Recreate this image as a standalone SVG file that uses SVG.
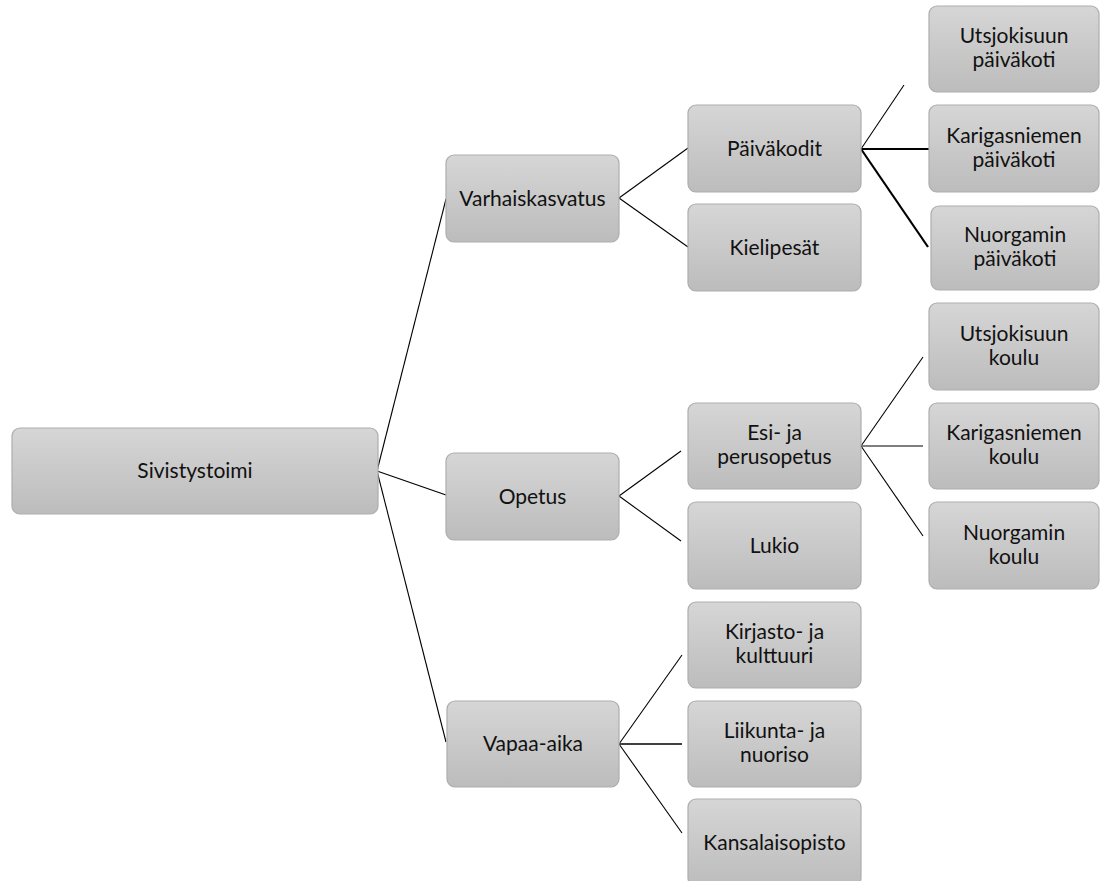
<svg xmlns="http://www.w3.org/2000/svg" width="1100" height="881" viewBox="0 0 1100 881">
<defs>
<linearGradient id="g" x1="0" y1="0" x2="0" y2="1">
<stop offset="0" stop-color="#d6d6d6"/>
<stop offset="1" stop-color="#bcbcbc"/>
</linearGradient>
<style>
.box{fill:url(#g);stroke:#adadad;stroke-width:1.2}
.t{font-family:Lato,"Liberation Sans",sans-serif;font-size:21px;fill:#111;text-anchor:middle}
.c{stroke:#000;stroke-width:1.1;fill:none}
.c2{stroke:#000;stroke-width:2.2;fill:none}
.c3{stroke:#404040;stroke-width:1.8;fill:none}
</style>
</defs>
<rect width="1100" height="881" fill="#fff"/>
<g id="connectors">
<line class="c" x1="377" y1="471" x2="446" y2="199"/>
<line class="c" x1="377" y1="471" x2="446" y2="495"/>
<line class="c" x1="377" y1="471" x2="446" y2="742"/>
<line class="c" x1="619" y1="198" x2="688" y2="148"/>
<line class="c" x1="619" y1="198" x2="688" y2="247"/>
<line class="c" x1="861" y1="149" x2="904" y2="85"/>
<line class="c2" x1="861" y1="149" x2="929" y2="149"/>
<line class="c2" x1="861" y1="149" x2="928" y2="247"/>
<line class="c" x1="619" y1="496" x2="681" y2="451"/>
<line class="c" x1="619" y1="496" x2="681" y2="541"/>
<line class="c" x1="861" y1="446" x2="923" y2="357"/>
<line class="c" x1="861" y1="446" x2="923" y2="446"/>
<line class="c" x1="861" y1="446" x2="923" y2="536"/>
<line class="c" x1="619" y1="744" x2="682" y2="655"/>
<line class="c3" x1="619" y1="744" x2="682" y2="744"/>
<line class="c" x1="619" y1="744" x2="682" y2="833"/>
</g>
<g id="sivistystoimi"><rect class="box" x="12" y="428" width="366" height="86" rx="8"/><text class="t" x="195" y="478">Sivistystoimi</text></g>
<g id="varhaiskasvatus"><rect class="box" x="446" y="155" width="173" height="87" rx="8"/><text class="t" x="532.5" y="205.5">Varhaiskasvatus</text></g>
<g id="opetus"><rect class="box" x="446" y="453" width="173" height="87" rx="8"/><text class="t" x="532.5" y="503.5">Opetus</text></g>
<g id="vapaa-aika"><rect class="box" x="447" y="701" width="172" height="86" rx="8"/><text class="t" x="533" y="751">Vapaa-aika</text></g>
<g id="paivakodit"><rect class="box" x="688" y="105" width="173" height="87" rx="8"/><text class="t" x="774.5" y="155.5">Päiväkodit</text></g>
<g id="kielipesat"><rect class="box" x="688" y="204" width="173" height="87" rx="8"/><text class="t" x="774.5" y="254.5">Kielipesät</text></g>
<g id="esi-ja-perusopetus"><rect class="box" x="688" y="403" width="173" height="86" rx="8"/><text class="t" x="774.5" y="440">Esi- ja</text><text class="t" x="774.5" y="464">perusopetus</text></g>
<g id="lukio"><rect class="box" x="688" y="502" width="173" height="87" rx="8"/><text class="t" x="774.5" y="552.5">Lukio</text></g>
<g id="kirjasto"><rect class="box" x="688" y="602" width="173" height="86" rx="8"/><text class="t" x="774.5" y="639">Kirjasto- ja</text><text class="t" x="774.5" y="663">kulttuuri</text></g>
<g id="liikunta"><rect class="box" x="688" y="701" width="173" height="86" rx="8"/><text class="t" x="774.5" y="738">Liikunta- ja</text><text class="t" x="774.5" y="762">nuoriso</text></g>
<g id="kansalaisopisto"><rect class="box" x="688" y="799" width="173" height="87" rx="8"/><text class="t" x="774.5" y="849.5">Kansalaisopisto</text></g>
<g id="utsjokisuun-paivakoti"><rect class="box" x="929" y="6" width="170" height="86" rx="8"/><text class="t" x="1014" y="43">Utsjokisuun</text><text class="t" x="1014" y="67">päiväkoti</text></g>
<g id="karigasniemen-paivakoti"><rect class="box" x="929" y="105" width="170" height="87" rx="8"/><text class="t" x="1014" y="142.5">Karigasniemen</text><text class="t" x="1014" y="166.5">päiväkoti</text></g>
<g id="nuorgamin-paivakoti"><rect class="box" x="931" y="206" width="168" height="84" rx="8"/><text class="t" x="1015" y="242">Nuorgamin</text><text class="t" x="1015" y="266">päiväkoti</text></g>
<g id="utsjokisuun-koulu"><rect class="box" x="929" y="303" width="170" height="87" rx="8"/><text class="t" x="1014" y="340.5">Utsjokisuun</text><text class="t" x="1014" y="364.5">koulu</text></g>
<g id="karigasniemen-koulu"><rect class="box" x="929" y="403" width="170" height="86" rx="8"/><text class="t" x="1014" y="440">Karigasniemen</text><text class="t" x="1014" y="464">koulu</text></g>
<g id="nuorgamin-koulu"><rect class="box" x="929" y="502" width="170" height="87" rx="8"/><text class="t" x="1014" y="539.5">Nuorgamin</text><text class="t" x="1014" y="563.5">koulu</text></g>
</svg>
